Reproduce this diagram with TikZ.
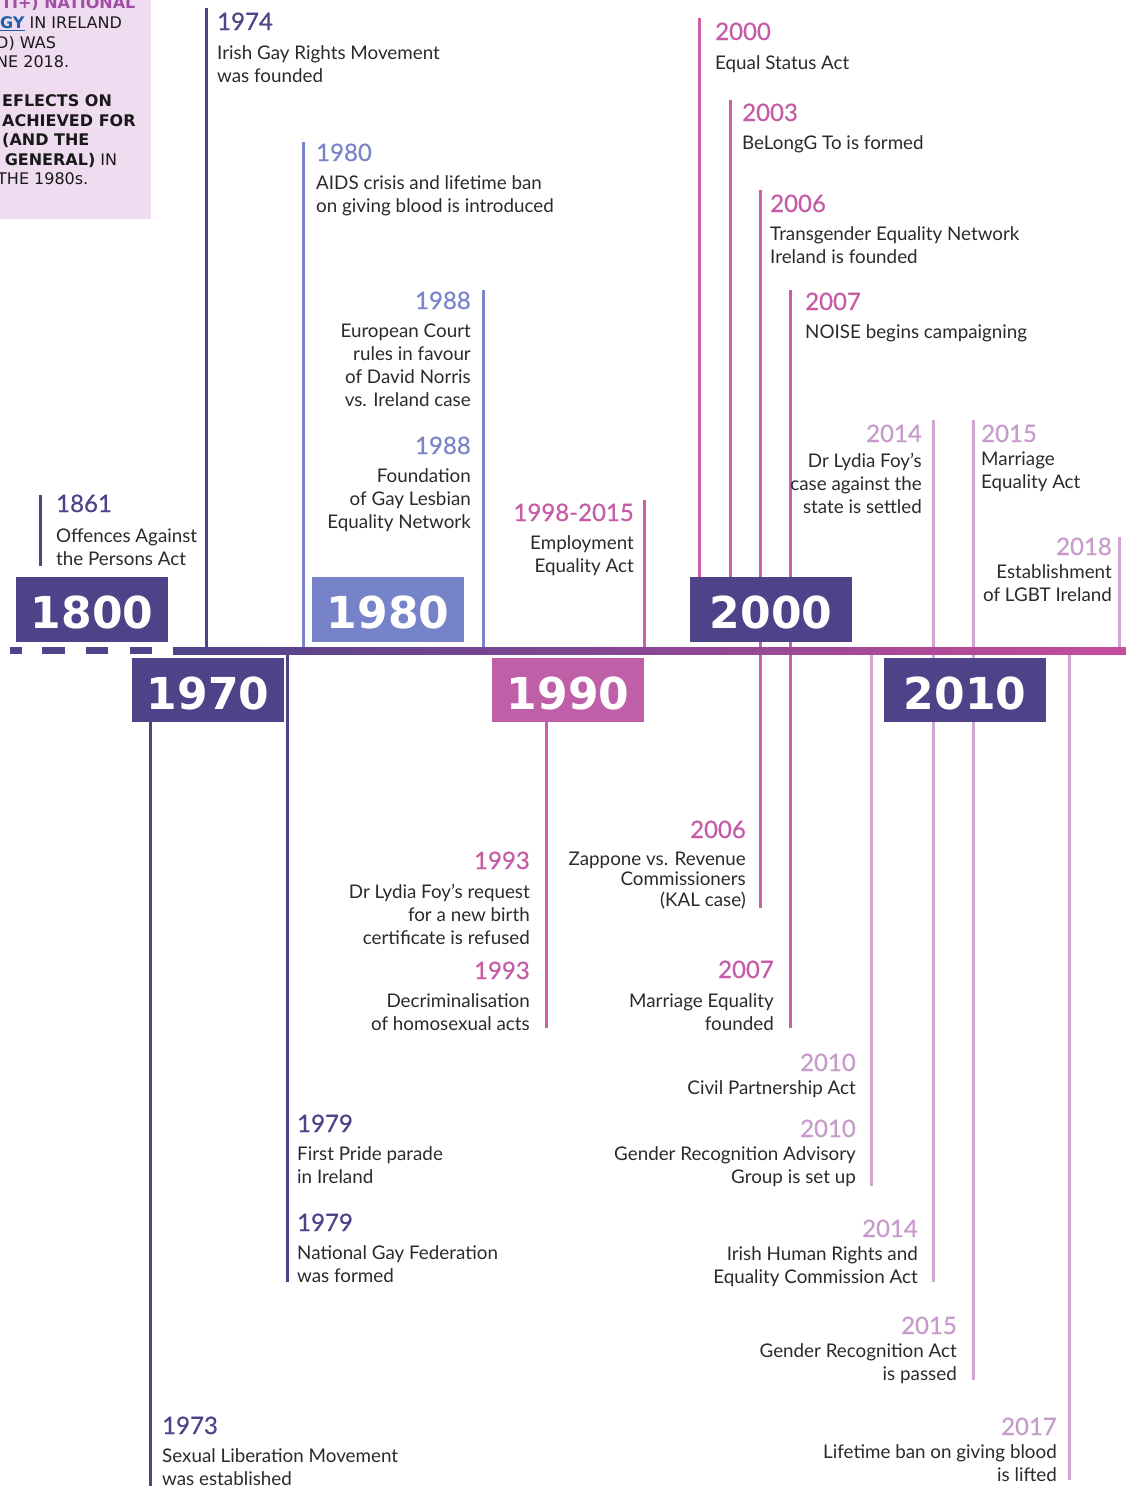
\documentclass[tikz,border=0pt]{standalone}
\usepackage{fontspec}
\setmainfont{Lato}
\newfontface\yearfont{Lato}[FakeBold=0.6]
\newfontfamily\decadefont{DejaVu Sans}
\newfontfamily\panelfont{DejaVu Sans}

\definecolor{darkpurple}{HTML}{4E4389}
\definecolor{lightblue}{HTML}{7A84C6}
\definecolor{boxblue}{HTML}{7683C8}
\definecolor{pinkline}{HTML}{CC5FA8}
\definecolor{yearpink}{HTML}{C65BA6}
\definecolor{boxpink}{HTML}{BE5FA8}
\definecolor{lilac}{HTML}{CFA5D2}
\definecolor{yearlilac}{HTML}{C79BCB}
\definecolor{axispink}{HTML}{C64C9C}
\definecolor{panel}{HTML}{F0DCF0}
\definecolor{panelpurple}{HTML}{A24DA6}
\definecolor{linkblue}{HTML}{1F5FA8}
\definecolor{bodytext}{HTML}{2A2A2A}

\tikzset{
  year/.style={font=\yearfont\fontsize{24}{28}\selectfont, inner sep=0pt},
  event/.style={font=\fontsize{18.8}{23}\selectfont, inner sep=0pt, text=bodytext,
    execute at begin node={\rule{0pt}{18pt}}},
  tightevent/.style={event, font=\fontsize{18.8}{20.5}\selectfont},
  decade/.style={font=\decadefont\bfseries\fontsize{44}{50}\selectfont, text=white, inner sep=0pt},
  paneltext/.style={font=\panelfont\fontsize{16}{19}\selectfont, text=black!90, inner sep=0pt, anchor=base west},
  stem/.style={line width=3pt},
}

\begin{document}
\begin{tikzpicture}[x=1pt, y=-1pt]
  \useasboundingbox (0,0) rectangle (1126,1486);

  %%%%% PANEL %%%%%
  \begin{scope}
    \clip (0,0) rectangle (151,219);
    \fill[panel] (0,0) rectangle (151,219);
    \node[paneltext, font=\panelfont\bfseries\fontsize{16}{19}\selectfont, text=panelpurple] (p1) at (1,8.5) {TI+) NATIONAL};
    \node[paneltext] (p2) at (0,28.5) {\textcolor{linkblue}{\bfseries\underline{GY}} IN IRELAND};
    \node[paneltext] (p3) at (-4,48) {D) WAS};
    \node[paneltext] (p4) at (-4,67.5) {NE 2018.};
    \node[paneltext, font=\panelfont\bfseries\fontsize{16}{19}\selectfont] (p5) at (2,106.5) {EFLECTS ON};
    \node[paneltext, font=\panelfont\bfseries\fontsize{16}{19}\selectfont] (p6) at (2,126) {ACHIEVED FOR};
    \node[paneltext, font=\panelfont\bfseries\fontsize{16}{19}\selectfont] (p7) at (2,145.5) {(AND THE};
    \node[paneltext] (p8) at (-1,165) {\bfseries\ GENERAL)\mdseries\ IN};
    \node[paneltext] (p9) at (-3,184.5) {THE 1980s.};
  \end{scope}

  %%%%% STEMS %%%%%
  \draw[stem, darkpurple] (40,495) -- (40,566);
  \draw[stem, darkpurple] (206,8) -- (206,650);
  \draw[stem, lightblue] (303,142) -- (303,650);
  \draw[stem, lightblue] (483,290) -- (483,650);
  \draw[stem, pinkline] (644,500) -- (644,650);
  \draw[stem, pinkline] (699,18) -- (699,600);
  \draw[stem, pinkline] (730,100) -- (730,600);
  \draw[stem, pinkline] (760,190) -- (760,908);
  \draw[stem, pinkline] (790,290) -- (790,1028);
  \draw[stem, lilac] (933,420) -- (933,1282);
  \draw[stem, lilac] (973,420) -- (973,1380);
  \draw[stem, lilac] (1119,537) -- (1119,650);

  \draw[stem, darkpurple] (150,700) -- (150,1486);
  \draw[stem, darkpurple] (287,650) -- (287,1282);
  \draw[stem, pinkline] (546,700) -- (546,1028);
  \draw[stem, lilac] (871,650) -- (871,1186);
  \draw[stem, lilac] (1069,650) -- (1069,1480);

  %%%%% AXIS %%%%%
  \foreach \xa/\xb in {10/22, 42/65, 86/108, 130/152}
    \fill[darkpurple] (\xa,647) rectangle (\xb,654);
  \shade[left color=darkpurple, right color=axispink] (173,647) rectangle (1126,654);

  %%%%% DECADES %%%%%
  \fill[darkpurple] (16,577) rectangle (168,642);
  \node[decade] (d1800) at (92,612) {1800};
  \fill[darkpurple] (132,658) rectangle (284,722);
  \node[decade] (d1970) at (208,693) {1970};
  \fill[boxblue] (312,577) rectangle (464,642);
  \node[decade] (d1980) at (388,612) {1980};
  \fill[boxpink] (492,658) rectangle (644,722);
  \node[decade] (d1990) at (568,693) {1990};
  \fill[darkpurple] (690,577) rectangle (852,642);
  \node[decade] (d2000) at (771,612) {2000};
  \fill[darkpurple] (884,658) rectangle (1046,722);
  \node[decade] (d2010) at (965,693) {2010};

  %%%%% ABOVE THE AXIS %%%%%
  \node[year, text=darkpurple, anchor=base west] (y1861) at (56,512) {1861};
  \node[event, anchor=north west, align=left] (e1861) at (56,528.5) {Offences Against\\the Persons Act};

  \node[year, text=darkpurple, anchor=base west] (y1974) at (217,30) {1974};
  \node[event, anchor=north west, align=left] (e1974) at (217,45.5) {Irish Gay Rights Movement\\was founded};

  \node[year, text=lightblue, anchor=base west] (y1980) at (316,161) {1980};
  \node[event, anchor=north west, align=left] (e1980) at (316,175.5) {AIDS crisis and lifetime ban\\on giving blood is introduced};

  \node[year, text=lightblue, anchor=base east] (y1988a) at (471,309) {1988};
  \node[event, anchor=north east, align=right] (e1988a) at (471,323.5) {European Court\\rules in favour\\of David Norris\\vs. Ireland case};

  \node[year, text=lightblue, anchor=base east] (y1988b) at (471,454) {1988};
  \node[event, anchor=north east, align=right] (e1988b) at (471,468.5) {Foundation\\of Gay Lesbian\\Equality Network};

  \node[year, text=yearpink, anchor=base east] (y1998) at (634,521) {1998-2015};
  \node[event, anchor=north east, align=right] (e1998) at (634,535.5) {Employment\\Equality Act};

  \node[year, text=yearpink, anchor=base west] (y2000) at (715,40) {2000};
  \node[event, anchor=north west, align=left] (e2000) at (715,51.5) {Equal Status Act};

  \node[year, text=yearpink, anchor=base west] (y2003) at (742,121) {2003};
  \node[event, anchor=north west, align=left] (e2003) at (742,131.5) {BeLongG To is formed};

  \node[year, text=yearpink, anchor=base west] (y2006a) at (770,212) {2006};
  \node[event, anchor=north west, align=left] (e2006a) at (770,226.5) {Transgender Equality Network\\Ireland is founded};

  \node[year, text=yearpink, anchor=base west] (y2007a) at (805,310) {2007};
  \node[event, anchor=north west, align=left] (e2007a) at (805,320.5) {NOISE begins campaigning};

  \node[year, text=yearlilac, anchor=base east] (y2014a) at (922,442) {2014};
  \node[event, anchor=north east, align=right] (e2014a) at (922,452.5) {Dr Lydia Foy’s\\case against the\\state is settled};

  \node[year, text=yearlilac, anchor=base west] (y2015a) at (981,442) {2015};
  \node[event, anchor=north west, align=left] (e2015a) at (981,451.5) {Marriage\\Equality Act};

  \node[year, text=yearlilac, anchor=base east] (y2018) at (1112,555) {2018};
  \node[event, anchor=north east, align=right] (e2018) at (1112,564.5) {Establishment\\of LGBT Ireland};

  %%%%% BELOW THE AXIS %%%%%
  \node[year, text=darkpurple, anchor=base west] (y1973) at (162,1434) {1973};
  \node[event, anchor=north west, align=left] (e1973) at (162,1448.5) {Sexual Liberation Movement\\was established};

  \node[year, text=darkpurple, anchor=base west] (y1979a) at (297,1132) {1979};
  \node[event, anchor=north west, align=left] (e1979a) at (297,1146.5) {First Pride parade\\in Ireland};

  \node[year, text=darkpurple, anchor=base west] (y1979b) at (297,1231) {1979};
  \node[event, anchor=north west, align=left] (e1979b) at (297,1245.5) {National Gay Federation\\was formed};

  \node[year, text=yearpink, anchor=base east] (y1993a) at (530,869) {1993};
  \node[event, anchor=north east, align=right] (e1993a) at (530,883.5) {Dr Lydia Foy’s request\\for a new birth\\certificate is refused};

  \node[year, text=yearpink, anchor=base east] (y1993b) at (530,979) {1993};
  \node[event, anchor=north east, align=right] (e1993b) at (530,993.5) {Decriminalisation\\of homosexual acts};

  \node[year, text=yearpink, anchor=base east] (y2006b) at (746,838) {2006};
  \node[tightevent, anchor=north east, align=right] (e2006b) at (746,851.5) {Zappone vs. Revenue\\Commissioners\\(KAL case)};

  \node[year, text=yearpink, anchor=base east] (y2007b) at (774,978) {2007};
  \node[event, anchor=north east, align=right] (e2007b) at (774,993.5) {Marriage Equality\\founded};

  \node[year, text=yearlilac, anchor=base east] (y2010a) at (856,1071) {2010};
  \node[event, anchor=north east, align=right] (e2010a) at (856,1076.5) {Civil Partnership Act};

  \node[year, text=yearlilac, anchor=base east] (y2010b) at (856,1137) {2010};
  \node[event, anchor=north east, align=right] (e2010b) at (856,1146.5) {Gender Recognition Advisory\\Group is set up};

  \node[year, text=yearlilac, anchor=base east] (y2014b) at (918,1237) {2014};
  \node[event, anchor=north east, align=right] (e2014b) at (918,1246.5) {Irish Human Rights and\\Equality Commission Act};

  \node[year, text=yearlilac, anchor=base east] (y2015b) at (957,1334) {2015};
  \node[event, anchor=north east, align=right] (e2015b) at (957,1343.5) {Gender Recognition Act\\is passed};

  \node[year, text=yearlilac, anchor=base east] (y2017) at (1057,1435) {2017};
  \node[event, anchor=north east, align=right] (e2017) at (1057,1444.5) {Lifetime ban on giving blood\\is lifted};
\end{tikzpicture}
\end{document}
